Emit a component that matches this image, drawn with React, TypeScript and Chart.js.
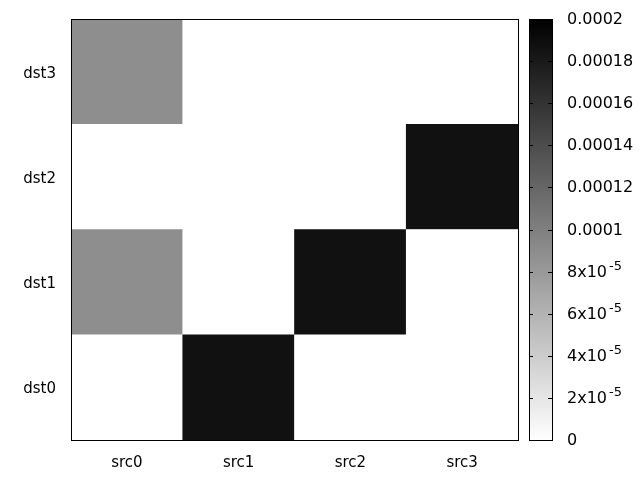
import React, { useEffect, useRef } from "react";
import { Chart, registerables } from "chart.js";

Chart.register(...registerables);

const sources = ["src0", "src1", "src2", "src3"];
const destinations = ["dst0", "dst1", "dst2", "dst3"];
// cell values per destination row, indexed by source
const dst0Values = [0, 0.000187, 0, 0];
const dst1Values = [0.0000886, 0, 0.000187, 0];
const dst2Values = [0, 0, 0, 0.000187];
const dst3Values = [0.0000886, 0, 0, 0];
const colorbarMin = 0;
const colorbarMax = 0.0002;
const colorbarTicks = [0, 2e-5, 4e-5, 6e-5, 8e-5, 1e-4, 1.2e-4, 1.4e-4, 1.6e-4, 1.8e-4, 2e-4];
const colorbarMantissas = ["0", "2x10", "4x10", "6x10", "8x10", "0.0001", "0.00012", "0.00014", "0.00016", "0.00018", "0.0002"];
const colorbarExponents = ["", "-5", "-5", "-5", "-5", "", "", "", "", "", ""];

const FONT = "DejaVu Sans";
const FONT_SIZE = 15;
const CB_FONT_SIZE = 16;

function grayFor(v: number): string {
  const t = Math.max(0, Math.min(1, (v - colorbarMin) / (colorbarMax - colorbarMin)));
  const g = Math.round(255 * (1 - t));
  return `rgb(${g},${g},${g})`;
}

const rows = [dst0Values, dst1Values, dst2Values, dst3Values];

const colorbarPlugin = {
  id: "colorbarFrame",
  afterDraw(chart: any) {
    const ctx = chart.ctx as CanvasRenderingContext2D;
    const area = chart.chartArea;
    const cb = chart.scales.cb;
    ctx.save();
    // frame of the heatmap
    ctx.strokeStyle = "#000";
    ctx.lineWidth = 1;
    ctx.strokeRect(Math.round(area.left) + 0.5, Math.round(area.top) + 0.5, Math.round(area.right - area.left), Math.round(area.bottom - area.top));

    // colorbar
    const x0 = Math.round(cb.left) + 11;
    const w = 23;
    const top = cb.getPixelForValue(colorbarMax);
    const bottom = cb.getPixelForValue(colorbarMin);
    const grad = ctx.createLinearGradient(0, bottom, 0, top);
    grad.addColorStop(0, grayFor(colorbarMin));
    grad.addColorStop(1, grayFor(colorbarMax));
    ctx.fillStyle = grad;
    ctx.fillRect(x0, top, w, bottom - top);
    ctx.strokeRect(x0 + 0.5, Math.round(top) + 0.5, w, Math.round(bottom - top));

    ctx.fillStyle = "#000";
    ctx.textBaseline = "middle";
    ctx.textAlign = "left";
    colorbarTicks.forEach((v, i) => {
      const y = Math.round(cb.getPixelForValue(v)) + 0.5;
      if (i > 0 && i < colorbarTicks.length - 1) {
        ctx.beginPath();
        ctx.moveTo(x0, y);
        ctx.lineTo(x0 + 4, y);
        ctx.moveTo(x0 + w, y);
        ctx.lineTo(x0 + w - 4, y);
        ctx.stroke();
      }
      const tx = x0 + 38;
      ctx.font = `${CB_FONT_SIZE}px "${FONT}"`;
      const m = colorbarMantissas[i];
      ctx.fillText(m, tx, y);
      const e = colorbarExponents[i];
      if (e) {
        const mw = ctx.measureText(m).width;
        ctx.font = `${Math.round(CB_FONT_SIZE * 0.8)}px "${FONT}"`;
        ctx.fillText(e, tx + mw + 2, y - 6);
      }
    });
    ctx.restore();
  },
};

export default function App() {
  const canvasRef = useRef<HTMLCanvasElement | null>(null);

  useEffect(() => {
    if (!canvasRef.current) return;
    const datasets = destinations.map((name, r) => ({
      label: name,
      data: sources.map(() => 1),
      backgroundColor: rows[r].map((v) => grayFor(v)),
      borderWidth: 0,
      barPercentage: 1,
      categoryPercentage: 1,
      stack: "cells",
    }));
    const chart = new Chart(canvasRef.current, {
      type: "bar",
      data: { labels: sources, datasets },
      plugins: [colorbarPlugin],
      options: {
        animation: false,
        responsive: false,
        devicePixelRatio: 1,
        layout: { padding: { top: 19, left: 0, right: 0, bottom: 0 } },
        plugins: { legend: { display: false }, tooltip: { enabled: false } },
        scales: {
          x: {
            stacked: true,
            grid: { display: false, drawTicks: false, tickLength: 0 },
            border: { display: false },
            ticks: { color: "#000", font: { family: FONT, size: FONT_SIZE }, padding: 14 },
            afterFit: (s: any) => { s.height = 40; s.paddingLeft = 0; s.paddingRight = 0; },
          },
          y: {
            stacked: true,
            min: 0,
            max: 4,
            grid: { display: false, drawTicks: false, tickLength: 0 },
            border: { display: false },
            afterBuildTicks: (s: any) => {
              s.ticks = destinations.map((_, i) => ({ value: i + 0.5 }));
            },
            ticks: {
              color: "#000",
              font: { family: FONT, size: FONT_SIZE },
              padding: 15,
              labelOffset: 2,
              callback: (v: any) => destinations[Math.floor(Number(v))],
            },
            afterFit: (s: any) => { s.width = 71; s.paddingTop = 0; s.paddingBottom = 0; },
          },
          cb: {
            type: "linear",
            position: "right",
            min: colorbarMin,
            max: colorbarMax,
            grid: { display: false, drawTicks: false },
            border: { display: false },
            ticks: { display: false },
            afterFit: (s: any) => { s.width = 122; s.paddingTop = 0; s.paddingBottom = 0; },
          },
        },
      },
    });
    return () => chart.destroy();
  }, []);

  return (
    <div style={{ position: "fixed", left: 0, top: 0, width: 640, height: 480, background: "#fff" }}>
      <canvas ref={canvasRef} width={640} height={480} />
    </div>
  );
}
